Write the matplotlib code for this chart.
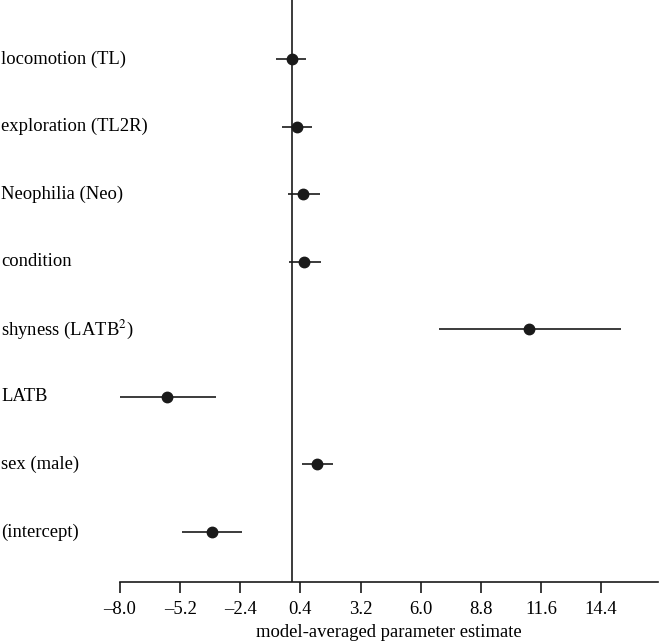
import matplotlib
matplotlib.use("Agg")
import matplotlib.pyplot as plt
import matplotlib.transforms as mtransforms

plt.rcParams['font.family'] = ['Liberation Serif', 'DejaVu Serif']
plt.rcParams['mathtext.fontset'] = 'stix'

# данные с графика (сверху вниз)
labels = ['locomotion (TL)', 'exploration (TL2R)', 'Neophilia (Neo)', 'condition',
          'shyness (LATB$^{2}$)', 'LATB', 'sex (male)', '(intercept)']
estimate = [-0.01, 0.22, 0.53, 0.57, 11.06, -5.81, 1.18, -3.72]
ci_low = [-0.73, -0.47, -0.17, -0.14, 6.84, -8.11, 0.47, -5.13]
ci_high = [0.65, 0.92, 1.31, 1.37, 15.31, -3.51, 1.90, -2.30]
xticks = [-8.0, -5.2, -2.4, 0.4, 3.2, 6.0, 8.8, 11.6, 14.4]

fs = 13.4
fig = plt.figure(figsize=(6.6, 6.43), dpi=100)
ax = fig.add_axes([120 / 660, 1 - 582 / 643, 538 / 660, 582 / 643])

ypos = list(range(len(labels), 0, -1))
color = '#1a1a1a'

ax.axvline(0, color=color, linewidth=1.2, zorder=1)
ax.hlines(ypos, ci_low, ci_high, color=color, linewidth=1.2, zorder=2)
ax.plot(estimate, ypos, 'o', color=color, markersize=7.5, zorder=3)

trans = mtransforms.blended_transform_factory(fig.transFigure, ax.transData)
for y, lab in zip(ypos, labels):
    ax.text(0.002, y, lab, transform=trans, ha='left', va='center', fontsize=fs)

ax.set_xlim(-8.0, 17.05)
ax.set_ylim(0.26, 8.873)
ax.set_xticks(xticks)
ax.set_xticklabels([f'{t:.1f}'.replace('-', '\u2013') for t in xticks], fontsize=fs)
ax.set_yticks([])
ax.tick_params(axis='x', length=8, width=1.2, color=color, pad=6)
for s in ['left', 'top', 'right']:
    ax.spines[s].set_visible(False)
ax.spines['bottom'].set_linewidth(1.2)
ax.spines['bottom'].set_color(color)
ax.set_xlabel('model-averaged parameter estimate', fontsize=fs, labelpad=4)

fig.savefig('out.png', dpi=100)
